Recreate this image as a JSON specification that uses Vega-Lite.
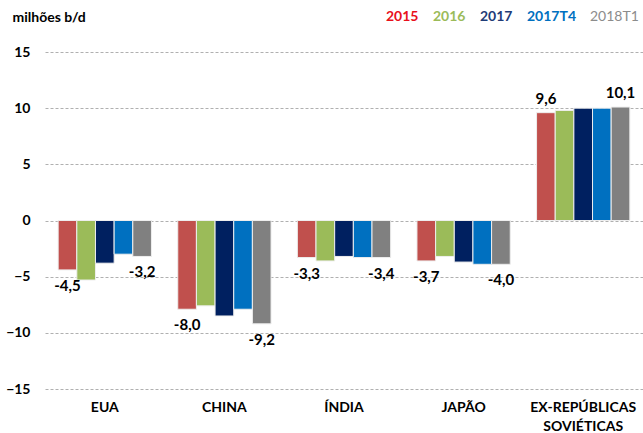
{
  "$schema": "https://vega.github.io/schema/vega-lite/v6.json",
  "width": 598,
  "height": 337,
  "autosize": {"type": "none"},
  "padding": {"left": 45, "top": 52, "right": 0, "bottom": 44},
  "background": "white",
  "config": {
    "font": "Lato",
    "view": {"stroke": null}
  },
  "data": {
    "values": [
      {"region": "EUA", "series": "2015", "value": -4.4, "label": "-4,5"},
      {"region": "EUA", "series": "2016", "value": -5.3, "label": null},
      {"region": "EUA", "series": "2017", "value": -3.8, "label": null},
      {"region": "EUA", "series": "2017T4", "value": -3.0, "label": null},
      {"region": "EUA", "series": "2018T1", "value": -3.2, "label": "-3,2"},
      {"region": "CHINA", "series": "2015", "value": -7.9, "label": "-8,0"},
      {"region": "CHINA", "series": "2016", "value": -7.6, "label": null},
      {"region": "CHINA", "series": "2017", "value": -8.5, "label": null},
      {"region": "CHINA", "series": "2017T4", "value": -7.9, "label": null},
      {"region": "CHINA", "series": "2018T1", "value": -9.2, "label": "-9,2"},
      {"region": "ÍNDIA", "series": "2015", "value": -3.3, "label": "-3,3"},
      {"region": "ÍNDIA", "series": "2016", "value": -3.6, "label": null},
      {"region": "ÍNDIA", "series": "2017", "value": -3.2, "label": null},
      {"region": "ÍNDIA", "series": "2017T4", "value": -3.3, "label": null},
      {"region": "ÍNDIA", "series": "2018T1", "value": -3.3, "label": "-3,4"},
      {"region": "JAPÃO", "series": "2015", "value": -3.6, "label": "-3,7"},
      {"region": "JAPÃO", "series": "2016", "value": -3.2, "label": null},
      {"region": "JAPÃO", "series": "2017", "value": -3.7, "label": null},
      {"region": "JAPÃO", "series": "2017T4", "value": -3.9, "label": null},
      {"region": "JAPÃO", "series": "2018T1", "value": -3.9, "label": "-4,0"},
      {"region": "EX-REPÚBLICAS SOVIÉTICAS", "series": "2015", "value": 9.6, "label": "9,6"},
      {"region": "EX-REPÚBLICAS SOVIÉTICAS", "series": "2016", "value": 9.8, "label": null},
      {"region": "EX-REPÚBLICAS SOVIÉTICAS", "series": "2017", "value": 10.0, "label": null},
      {"region": "EX-REPÚBLICAS SOVIÉTICAS", "series": "2017T4", "value": 10.0, "label": null},
      {"region": "EX-REPÚBLICAS SOVIÉTICAS", "series": "2018T1", "value": 10.1, "label": "10,1"}
    ]
  },
  "encoding": {
    "x": {
      "field": "region",
      "type": "nominal",
      "sort": null,
      "scale": {"paddingInner": 0.22, "paddingOuter": 0.11},
      "axis": {
        "title": null,
        "labelAngle": 0,
        "domain": false,
        "ticks": false,
        "labelPadding": 11,
        "labelFontSize": 14,
        "labelFontWeight": "bold",
        "labelColor": "#000000",
        "labelLineHeight": 19,
        "labelExpr": "split(datum.label, ' ')"
      }
    },
    "xOffset": {"field": "series", "type": "nominal", "sort": ["2015", "2016", "2017", "2017T4", "2018T1"]},
    "y": {
      "field": "value",
      "type": "quantitative",
      "scale": {"domain": [-15, 15], "nice": false},
      "axis": {
        "values": [-15, -10, -5, 0, 5, 10, 15],
        "title": "milhões b/d",
        "titleAngle": 0,
        "titleAlign": "left",
        "titleBaseline": "middle",
        "titleX": -33,
        "titleY": -35,
        "titleFontSize": 14,
        "titleFontWeight": "bold",
        "titleColor": "#000000",
        "domain": false,
        "ticks": false,
        "labelPadding": 15,
        "labelFontSize": 14,
        "labelFontWeight": "bold",
        "labelColor": "#000000",
        "grid": true,
        "gridColor": "#b0b0b0",
        "gridDash": [3, 2],
        "gridWidth": 1
      }
    }
  },
  "layer": [
    {
      "mark": {"type": "bar", "stroke": "#eeeeee", "strokeWidth": 1},
      "encoding": {
        "color": {
          "field": "series",
          "type": "nominal",
          "sort": ["2015", "2016", "2017", "2017T4", "2018T1"],
          "scale": {
            "domain": ["2015", "2016", "2017", "2017T4", "2018T1"],
            "range": ["#c0504d", "#9bbb59", "#002060", "#0070c0", "#808080"]
          },
          "legend": {
            "orient": "none",
            "direction": "horizontal",
            "legendX": 327,
            "legendY": -42,
            "title": null,
            "gridAlign": "none",
            "symbolSize": 0,
            "symbolOpacity": 0,
            "symbolStrokeWidth": 0,
            "labelOffset": 0,
            "columnPadding": 0,
            "labelFontSize": 14,
            "labelFontWeight": {"expr": "datum.value === '2018T1' ? 'normal' : 'bold'"},
            "labelColor": {"expr": "datum.value === '2015' ? '#e8101c' : datum.value === '2016' ? '#9bbb59' : datum.value === '2017' ? '#1f3c77' : datum.value === '2017T4' ? '#0070c0' : '#8c8c8c'"}
          }
        }
      }
    },
    {
      "transform": [{"filter": "datum.label != null && datum.value < 0"}],
      "mark": {"type": "text", "baseline": "top", "dy": 9, "fontSize": 15, "fontWeight": "bold", "color": "#000000"},
      "encoding": {"text": {"field": "label"}}
    },
    {
      "transform": [{"filter": "datum.label != null && datum.value > 0"}],
      "mark": {"type": "text", "baseline": "bottom", "dy": -6, "fontSize": 15, "fontWeight": "bold", "color": "#000000"},
      "encoding": {"text": {"field": "label"}}
    }
  ]
}
